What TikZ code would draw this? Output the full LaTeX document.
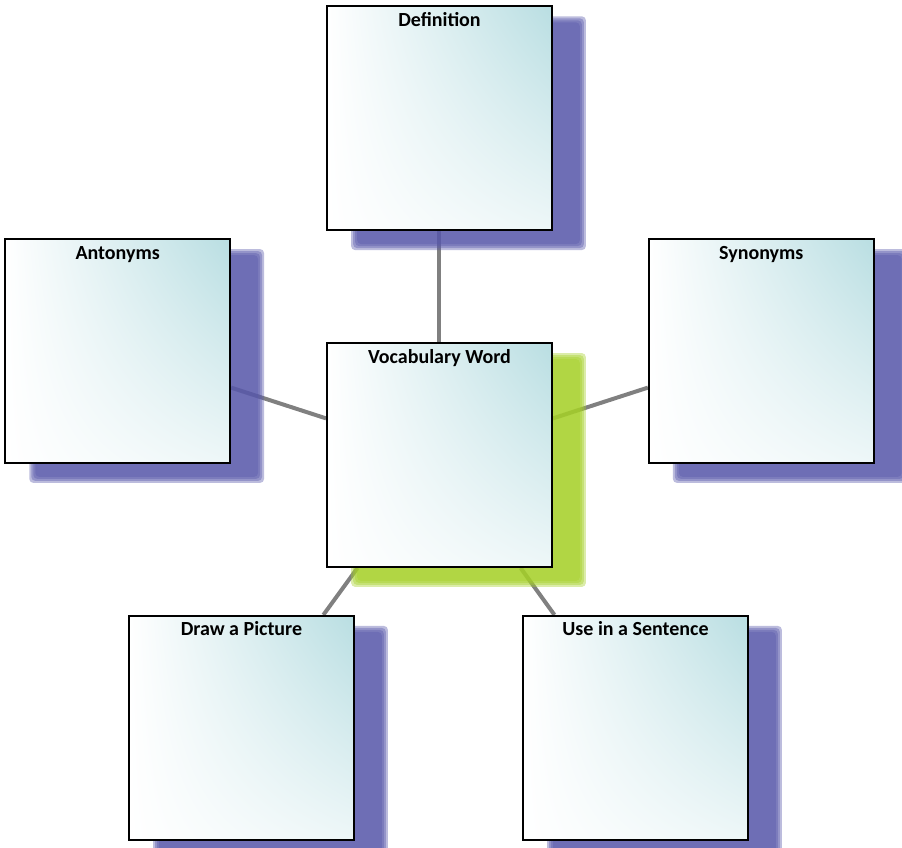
\documentclass[tikz,border=0pt]{standalone}
\usepackage{fontspec}
\setsansfont{Carlito}
\usetikzlibrary{positioning, shadings}
\pgfdeclarelayer{background}
\pgfsetlayers{background,main}
\definecolor{cardcyan}{RGB}{185,222,226}
\definecolor{shadowblue}{RGB}{88,88,170}
\definecolor{shadowgreen}{RGB}{165,208,40}
\definecolor{linkgray}{RGB}{128,128,128}
\begin{document}
\begin{tikzpicture}[
			node distance=23.5pt and 47.5pt,
			card/.style={rectangle, draw, line width=0.9pt, minimum width=112.5pt, minimum height=112pt, inner xsep=2pt, inner ysep=3.5pt, text height=6.5pt, text depth=98.5pt, font=\sffamily\bfseries\fontsize{10}{12}\selectfont, shade, upper right=cardcyan, upper left=white, lower left=white, lower right=cardcyan!25},
			link/.style={draw=linkgray, line width=2pt},
			]
			\useasboundingbox (-219.75pt,-196.5pt) rectangle (231.25pt,227.5pt);
			
			% Nodes
			\node (vocab) [card] {Vocabulary Word};
			\node (def) [card, above=55.5pt of vocab] {Definition};
			\node (ant) [card, left=of vocab, yshift=52pt] {Antonyms};
			\node (syn) [card, right=of vocab, yshift=52pt] {Synonyms};
			\node (pic) [card, below=of vocab, xshift=-99pt] {Draw a Picture};
			\node (sen) [card, below=of vocab, xshift=98pt] {Use in a Sentence};
			
			\begin{pgfonlayer}{background}
			% Links
			\foreach \n in {def, ant, syn, pic, sen}
				\draw[link] (vocab) -- (\n);
			% Shadows
			\foreach \n/\c in {def/shadowblue, ant/shadowblue, syn/shadowblue, pic/shadowblue, sen/shadowblue, vocab/shadowgreen}
				\foreach \e in {2pt,1pt,0pt,-1pt}
					\fill[\c, fill opacity=0.4, rounded corners=2pt] ([xshift=14.5pt-\e, yshift=-7.5pt-\e]\n.south west) rectangle ([xshift=14.5pt+\e, yshift=-7.5pt+\e]\n.north east);
			\end{pgfonlayer}
		\end{tikzpicture}
\end{document}
